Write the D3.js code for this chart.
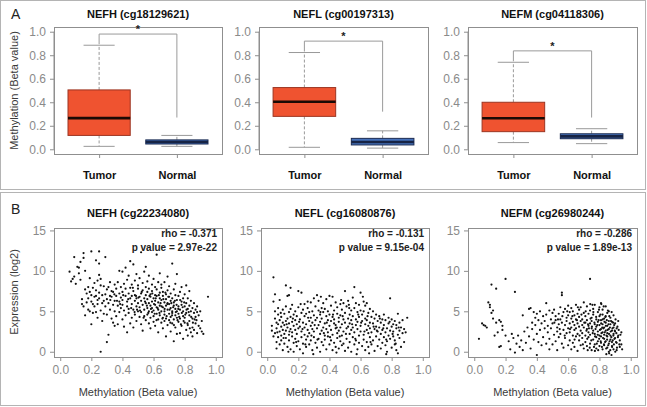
<!DOCTYPE html>
<html><head><meta charset="utf-8">
<script src="https://cdn.jsdelivr.net/npm/d3@7"></script>
<style>
html,body{margin:0;padding:0;background:#fff;}
svg{display:block;font-family:"Liberation Sans",Arial,sans-serif;}
</style></head>
<body>
<svg id="chart" width="647" height="407"></svg>
<script>
// ---------------- DATA ----------------
const boxTitles = ["NEFH (cg18129621)", "NEFL (cg00197313)", "NEFM (cg04118306)"];
const groups = ["Tumor", "Normal"];
// [low whisker, Q1, median, Q3, high whisker]
const tumorStats = [[0.025, 0.118, 0.265, 0.505, 0.885], [0.017, 0.28, 0.404, 0.525, 0.823], [0.057, 0.15, 0.264, 0.40, 0.74]];
const normalStats = [[0.025, 0.045, 0.062, 0.08, 0.118], [0.01, 0.037, 0.062, 0.093, 0.157], [0.048, 0.09, 0.11, 0.132, 0.175]];
const bracketTop = [0.98, 0.92, 0.837];
const bracketNormalEnd = [0.27, 0.32, 0.27];
const methylTicks = [0, 0.2, 0.4, 0.6, 0.8, 1.0];

const scatterTitles = ["NEFH (cg22234080)", "NEFL (cg16080876)", "NEFM (cg26980244)"];
const rhoValues = ["-0.371", "-0.131", "-0.286"];
const pValues = ["2.97e-22", "9.15e-04", "1.89e-13"];
const exprTicks = [0, 5, 10, 15];
const betaTicks = [0, 0.2, 0.4, 0.6, 0.8, 1.0];

const nefhPoints = [
[.06,9.9],[.07,8.7],[.08,9.0],[.09,11.7],[.09,9.3],[.10,8.4],[.11,10.5],[.12,10.4],[.12,9.7],[.13,11.1],[.13,8.9],[.14,6.5],[.15,12.2],[.15,11.6],[.14,5.9],
[.15,5.6],[.16,10.0],[.16,7.7],[.16,4.5],[.17,7.2],[.17,6.1],[.18,8.0],[.18,6.6],[.18,5.2],[.19,5.0],[.19,7.4],[.19,9.1],[.20,12.4],[.20,3.4],[.20,6.2],[.20,7.0],[.21,7.9],[.21,4.8],[.21,5.9],[.22,5.6],[.22,8.5],[.22,6.8],[.23,11.3],[.23,6.9],[.23,7.6],[.23,4.9],[.24,4.2],[.24,5.9],[.24,8.8],[.24,6.4],[.25,12.4],[.25,10.9],[.25,9.5],[.25,6.6],[.25,7.3],
[.26,9.0],[.26,0.0],[.26,5.1],[.26,8.2],[.27,7.0],[.27,3.8],[.27,6.0],[.28,6.3],[.28,8.1],[.28,4.7],[.29,11.7],[.29,5.6],[.29,7.1],[.30,1.2],[.30,7.7],[.30,4.6],[.30,6.5],[.31,2.1],[.31,6.0],[.31,8.0],[.32,8.6],[.32,5.2],[.32,6.9],[.33,6.8],[.33,4.1],[.33,7.5],[.34,7.4],[.34,5.8],[.34,3.6],[.35,3.2],[.35,6.3],[.35,8.3],[.35,5.0],
[.36,6.9],[.36,4.4],[.36,7.8],[.37,5.7],[.37,8.6],[.37,3.4],[.38,6.2],[.38,7.2],[.38,4.9],[.38,10.0],[.39,5.4],[.39,8.0],[.39,6.7],[.40,9.9],[.40,4.0],[.40,7.4],[.40,5.8],[.40,6.4],[.41,8.4],[.41,3.1],[.41,5.1],[.42,10.4],[.42,6.9],[.42,4.5],[.42,7.8],[.43,5.6],[.43,8.9],[.43,2.4],[.43,6.2],[.44,7.2],[.44,4.8],[.44,9.4],[.44,5.3],[.45,11.2],[.45,6.6],[.45,3.5],[.45,7.9],
[.46,5.9],[.46,8.3],[.46,4.2],[.46,6.9],[.47,7.5],[.47,5.2],[.47,10.8],[.47,3.0],[.48,6.3],[.48,8.8],[.48,4.6],[.48,7.0],[.49,5.6],[.49,9.6],[.49,6.6],[.49,3.8],[.50,7.8],[.50,5.0],[.50,6.0],[.50,8.2],[.51,4.3],[.51,6.8],[.51,9.1],[.51,5.5],[.52,12.3],[.52,7.2],[.52,3.4],[.52,6.3],[.52,4.9],[.53,8.5],[.53,5.8],[.53,7.6],[.53,2.6],[.54,6.6],[.54,4.4],[.54,9.9],[.54,5.2],[.55,10.5],[.55,7.0],[.55,3.9],[.55,6.0],[.55,8.0],
[.56,5.4],[.56,7.4],[.56,4.6],[.56,6.5],[.56,8.7],[.57,6.0],[.57,3.5],[.57,7.8],[.57,5.0],[.57,9.4],[.58,6.8],[.58,4.2],[.58,5.7],[.58,7.1],[.58,2.9],[.59,8.3],[.59,6.2],[.59,4.9],[.59,5.4],[.59,7.5],[.60,3.7],[.60,6.6],[.60,9.0],[.60,5.1],[.60,4.4],[.61,7.0],[.61,5.8],[.61,8.0],[.61,3.2],[.61,6.3],[.62,12.0],[.62,4.7],[.62,6.9],[.62,5.5],[.62,7.7],[.63,5.2],[.63,8.6],[.63,4.0],[.63,6.1],[.63,2.4],[.64,6.6],[.64,7.3],[.64,4.5],[.64,5.7],[.64,9.7],[.65,5.0],[.65,6.4],[.65,3.6],[.65,7.9],[.65,8.3],
[.66,5.5],[.66,4.2],[.66,6.9],[.66,7.4],[.66,2.9],[.67,6.1],[.67,5.0],[.67,8.6],[.67,3.8],[.67,4.6],[.68,7.1],[.68,5.7],[.68,6.5],[.68,1.9],[.68,4.1],[.69,5.2],[.69,7.6],[.69,3.3],[.69,6.0],[.69,9.3],[.70,4.7],[.70,5.9],[.70,6.8],[.70,3.9],[.70,8.1],[.71,5.4],[.71,4.3],[.71,7.2],[.71,2.5],[.71,6.3],[.72,10.9],[.72,5.0],[.72,3.5],[.72,6.6],[.72,4.8],[.73,5.7],[.73,7.7],[.73,4.0],[.73,1.3],[.73,6.1],[.74,4.5],[.74,5.3],[.74,3.0],[.74,7.0],[.74,8.4],[.75,6.4],[.75,4.2],[.75,5.0],[.75,2.2],[.75,9.6],
[.76,5.6],[.76,3.7],[.76,6.9],[.76,4.7],[.77,2.3],[.77,5.2],[.77,7.4],[.77,4.1],[.78,6.2],[.78,3.2],[.78,5.8],[.78,8.0],[.79,4.4],[.79,6.6],[.79,1.6],[.79,5.0],[.80,5.6],[.80,3.6],[.80,7.1],[.80,4.2],[.81,2.7],[.81,6.0],[.81,4.8],[.81,8.2],[.82,5.3],[.82,3.3],[.82,6.6],[.82,2.0],[.83,4.5],[.83,5.7],[.83,7.5],[.83,3.8],[.84,5.0],[.84,2.4],[.84,6.3],[.85,4.1],[.85,5.4],[.85,1.9],[.85,3.0],
[.86,4.8],[.86,6.0],[.86,2.7],[.87,5.2],[.87,3.5],[.87,4.3],[.88,4.9],[.88,2.3],[.88,5.6],[.89,3.2],[.89,4.5],[.90,5.0],[.90,2.9],[.91,3.8],[.91,2.5],[.92,2.2],[.95,6.8],
[.503,6.7],[.513,5.1],[.524,7.4],[.536,4.2],[.545,6.2],[.557,5.7],[.566,4.8],[.574,6.9],[.583,5.3],[.592,7.2],[.603,5.9],[.607,4.7],[.614,6.6],[.619,3.9],[.626,5.4],[.634,7.0],[.638,4.8],[.645,6.0],[.652,5.6],[.657,4.1],[.663,6.5],[.671,5.3],[.676,7.3],[.684,4.4],[.689,5.9],[.695,6.8],[.703,5.2],[.708,3.6],[.714,6.0],[.719,4.5],[.726,5.5],[.731,3.3],[.737,6.3],[.743,4.9],[.748,5.8],[.754,3.9],[.759,5.3],[.765,4.3],[.771,6.4],[.776,3.4],[.782,4.8],[.787,5.5],[.793,3.8],[.797,6.1],[.804,4.6],[.812,5.2],[.818,3.5],[.826,4.9],[.833,2.9],[.842,4.3],[.853,3.6],[.864,4.0],[.876,3.9],[.437,6.5],[.456,5.4],[.467,7.9],[.478,4.9],[.487,6.9],[.494,5.2],[.405,7.0],[.385,5.9],[.365,6.3],[.348,7.1],[.322,6.4]
];

const neflPoints = [
[.03,3.2],[.03,2.6],[.04,9.2],[.04,1.9],[.04,6.2],[.05,7.1],[.05,5.0],[.05,4.1],[.05,2.3],[.06,3.6],[.06,1.2],[.06,0.4],[.06,2.9],[.07,4.6],[.07,3.4],[.07,1.8],[.07,5.4],[.08,2.5],[.08,0.9],[.08,3.9],[.08,6.4],[.09,2.0],[.09,4.3],[.09,3.1],[.09,1.4],[.10,5.2],[.10,2.7],[.10,0.2],[.10,3.6],
[.11,4.7],[.11,2.2],[.11,3.3],[.11,1.0],[.12,8.2],[.12,3.8],[.12,5.6],[.12,1.7],[.12,2.6],[.13,4.1],[.13,0.6],[.13,3.0],[.13,6.9],[.14,7.0],[.14,2.1],[.14,4.9],[.14,1.4],[.14,3.5],[.15,7.9],[.15,5.3],[.15,2.8],[.15,0.3],[.15,4.3],[.16,3.7],[.16,1.9],[.16,5.8],[.16,2.4],[.17,4.6],[.17,1.1],[.17,3.2],[.17,0.0],[.18,2.7],[.18,5.0],[.18,3.9],[.18,1.6],[.19,4.4],[.19,2.2],[.19,0.7],[.19,3.4],[.20,7.5],[.20,5.5],[.20,2.9],[.20,1.3],
[.21,4.0],[.21,0.3],[.21,3.1],[.22,7.3],[.22,1.8],[.22,4.8],[.22,2.5],[.23,5.2],[.23,3.6],[.23,1.0],[.23,-0.2],[.24,4.4],[.24,2.1],[.24,5.9],[.24,3.0],[.25,1.5],[.25,4.7],[.25,3.4],[.25,0.6],[.26,5.4],[.26,2.7],[.26,6.2],[.26,1.9],[.27,3.8],[.27,4.9],[.27,0.9],[.27,2.3],[.28,6.1],[.28,3.2],[.28,1.4],[.28,4.2],[.29,2.8],[.29,5.0],[.29,0.2],[.29,3.6],[.30,6.6],[.30,4.5],[.30,1.8],[.30,2.5],
[.31,3.9],[.31,5.6],[.31,1.1],[.32,7.0],[.32,2.9],[.32,4.2],[.32,0.5],[.33,6.3],[.33,3.3],[.33,1.6],[.33,5.1],[.34,2.2],[.34,4.6],[.34,3.7],[.34,0.0],[.35,5.4],[.35,2.6],[.35,1.2],[.35,4.1],[.36,3.0],[.36,6.0],[.36,0.8],[.36,4.9],[.37,2.0],[.37,3.5],[.37,5.3],[.37,1.5],[.38,4.4],[.38,2.8],[.38,0.3],[.38,6.5],[.39,3.9],[.39,1.9],[.39,5.0],[.39,2.4],[.40,4.6],[.40,0.9],[.40,3.2],[.40,6.9],
[.41,2.7],[.41,5.7],[.41,1.4],[.41,3.8],[.42,4.3],[.42,0.2],[.42,2.1],[.42,6.8],[.43,3.5],[.43,5.1],[.43,1.1],[.43,4.0],[.44,2.9],[.44,6.1],[.44,0.6],[.44,3.3],[.45,4.7],[.45,2.3],[.45,5.5],[.45,1.7],[.46,3.7],[.46,0.4],[.46,4.2],[.46,2.6],[.47,5.9],[.47,3.0],[.47,1.3],[.47,4.5],[.48,2.0],[.48,3.4],[.48,5.2],[.48,0.8],[.49,4.0],[.49,2.5],[.49,6.0],[.49,1.0],[.50,7.5],[.50,3.6],[.50,0.1],[.50,4.8],
[.51,2.9],[.51,5.6],[.51,1.6],[.52,4.1],[.52,3.1],[.52,0.5],[.52,6.3],[.53,2.2],[.53,4.6],[.53,1.2],[.53,3.5],[.54,5.1],[.54,0.0],[.54,2.7],[.54,3.9],[.55,6.7],[.55,1.8],[.55,4.4],[.55,3.0],[.56,8.0],[.56,5.4],[.56,2.4],[.56,0.9],[.57,4.0],[.57,3.3],[.57,6.0],[.57,1.4],[.58,2.8],[.58,4.9],[.58,0.3],[.58,3.7],[.59,5.8],[.59,2.0],[.59,4.3],[.59,1.1],[.60,7.3],[.60,3.2],[.60,5.1],[.60,2.5],
[.61,4.6],[.61,0.7],[.61,3.8],[.62,6.2],[.62,2.1],[.62,5.0],[.62,1.5],[.63,3.4],[.63,4.1],[.63,0.2],[.63,5.7],[.64,2.7],[.64,3.9],[.64,6.0],[.64,1.2],[.65,4.8],[.65,2.3],[.65,3.2],[.65,0.6],[.66,5.3],[.66,3.6],[.66,1.8],[.66,2.9],[.67,4.3],[.67,0.9],[.67,2.4],[.68,3.5],[.68,5.0],[.68,1.4],[.69,2.8],[.69,4.1],[.69,0.1],[.70,3.1],[.70,1.9],[.70,4.6],
[.71,2.5],[.71,3.8],[.71,0.7],[.72,4.4],[.72,1.5],[.72,3.0],[.73,2.2],[.73,3.6],[.73,0.4],[.74,4.0],[.74,1.1],[.74,2.7],[.75,3.3],[.75,1.8],[.75,4.6],[.76,2.4],[.76,0.8],[.76,3.9],[.77,1.3],[.77,2.9],[.77,0.0],[.78,3.5],[.78,2.0],[.78,4.2],[.79,6.6],[.79,1.6],[.79,2.6],[.80,3.1],[.80,0.5],[.80,4.0],
[.81,1.9],[.81,3.4],[.81,2.5],[.82,0.9],[.82,3.8],[.82,1.4],[.83,2.9],[.83,0.2],[.83,3.3],[.84,4.7],[.84,2.1],[.84,-0.2],[.85,3.6],[.85,1.7],[.85,2.6],[.86,0.6],[.86,3.0],[.87,2.3],[.87,3.9],[.88,1.2],[.88,2.8],[.89,2.4],[.90,4.2],
[.065,2.4],[.087,4.8],[.105,1.7],[.125,3.4],[.143,2.5],[.165,4.1],[.186,1.2],[.205,3.7],[.227,2.8],[.245,0.9],[.263,4.2],[.284,2.0],[.305,3.3],[.323,1.5],[.342,4.9],[.364,2.3],[.383,3.6],[.404,1.8],[.423,4.6],[.447,3.0],[.466,1.9],[.485,4.4],[.506,2.2],[.527,5.4],[.546,3.4],[.566,1.6],[.585,4.6],[.604,3.6],[.625,2.5],[.645,4.4],[.664,1.2],[.684,3.1],[.705,2.6],[.724,4.1],[.746,2.9],[.765,1.5],[.787,3.7],[.806,2.2],[.826,1.0],[.845,3.0],[.136,0.0],[.296,-0.3],[.445,-0.1],[.575,-0.3],[.655,-0.2],[.765,-0.3],[.215,5.9],[.475,6.4],[.615,6.8],[.345,6.8],[.525,5.8]
];

const nefmPoints = [
[.03,1.6],[.05,3.5],[.06,3.3],[.07,3.2],[.08,3.0],[.09,6.1],[.10,5.5],[.10,5.8],[.11,8.3],[.11,4.8],[.12,4.1],[.12,5.1],[.13,2.0],[.14,7.8],[.14,3.6],[.15,2.4],[.16,3.9],[.16,0.6],[.17,3.7],[.17,0.7],[.18,3.2],[.18,2.7],[.20,9.0],[.20,2.0],[.22,1.3],[.23,0.3],[.24,2.2],[.25,1.7],[.26,7.4],[.26,-0.1],[.27,1.0],[.28,2.0],[.29,0.6],[.30,1.4],[.31,4.5],[.31,0.2],[.32,2.5],
[.33,1.1],[.34,3.0],[.35,5.3],[.35,1.9],[.36,5.4],[.36,0.4],[.37,3.6],[.37,2.8],[.38,1.5],[.38,4.9],[.39,4.2],[.39,3.3],[.40,4.7],[.40,-0.4],[.40,2.2],[.41,3.9],[.41,1.2],[.42,5.0],[.42,2.7],[.43,3.5],[.43,0.8],[.44,4.4],[.44,1.8],[.45,2.9],[.45,3.8],[.46,6.0],[.46,1.0],[.46,4.6],[.47,2.4],[.47,3.2],[.48,5.1],[.48,0.3],[.48,1.6],[.49,4.0],[.49,2.9],[.50,3.5],[.50,0.9],[.50,4.8],
[.51,2.1],[.51,5.2],[.52,3.9],[.52,1.3],[.52,4.4],[.53,3.0],[.53,2.5],[.53,0.2],[.54,4.7],[.54,3.4],[.54,1.8],[.55,5.5],[.55,2.2],[.55,4.0],[.56,7.3],[.56,7.0],[.56,3.6],[.56,1.0],[.57,4.9],[.57,2.7],[.57,0.5],[.58,3.3],[.58,5.3],[.58,1.7],[.59,4.2],[.59,2.3],[.59,3.8],[.60,5.7],[.60,0.8],[.60,2.9],[.60,4.5],
[.61,3.5],[.61,1.4],[.61,4.9],[.61,2.4],[.62,5.4],[.62,3.0],[.62,0.3],[.62,4.1],[.63,2.0],[.63,3.7],[.63,5.0],[.63,1.1],[.64,4.5],[.64,2.7],[.64,3.3],[.64,0.6],[.65,5.8],[.65,1.9],[.65,4.0],[.65,2.9],[.66,3.5],[.66,0.1],[.66,4.7],[.66,2.2],[.67,5.2],[.67,3.1],[.67,1.4],[.67,4.3],[.68,2.6],[.68,3.8],[.68,0.8],[.68,5.5],[.69,4.0],[.69,1.7],[.69,3.3],[.69,2.3],[.70,6.1],[.70,4.8],[.70,0.4],[.70,3.0],
[.71,2.0],[.71,4.4],[.71,3.6],[.71,1.2],[.72,5.6],[.72,2.8],[.72,3.9],[.72,0.7],[.73,4.7],[.73,1.8],[.73,3.2],[.73,2.4],[.74,9.0],[.74,5.1],[.74,3.5],[.74,1.0],[.74,2.1],[.75,4.2],[.75,2.9],[.75,0.2],[.75,3.8],[.76,5.3],[.76,1.5],[.76,2.6],[.76,4.6],[.77,3.4],[.77,0.9],[.77,5.8],[.77,2.2],[.78,4.0],[.78,1.8],[.78,3.1],[.78,0.4],[.79,4.9],[.79,2.5],[.79,3.7],[.79,1.3],[.80,5.5],[.80,3.3],[.80,0.7],[.80,2.0],[.80,4.4],
[.81,6.0],[.81,2.8],[.81,3.9],[.81,1.1],[.81,1.9],[.82,4.6],[.82,2.4],[.82,3.4],[.82,0.3],[.82,5.2],[.83,1.6],[.83,3.0],[.83,4.1],[.83,2.1],[.83,0.8],[.84,5.6],[.84,3.6],[.84,1.3],[.84,2.6],[.84,4.4],[.85,0.5],[.85,3.2],[.85,1.9],[.85,4.8],[.85,2.3],[.86,3.8],[.86,1.0],[.86,2.8],[.86,0.0],[.86,5.0],[.87,2.0],[.87,3.4],[.87,1.5],[.87,4.2],[.88,2.6],[.88,0.7],[.88,3.7],[.88,1.2],[.89,4.5],[.89,2.2],[.89,3.0],[.89,0.3],[.90,1.7],[.90,3.5],[.90,2.5],
[.91,1.1],[.91,2.9],[.91,0.2],[.92,2.0],[.92,3.8],[.93,1.4],[.93,0.6],[.94,0.9],[.94,2.4],
[.722,1.6],[.727,3.4],[.733,2.9],[.738,0.5],[.743,4.1],[.748,1.4],[.752,3.1],[.757,2.3],[.761,4.9],[.765,0.6],[.768,3.6],[.772,1.9],[.775,2.8],[.779,4.3],[.783,1.0],[.786,3.3],[.789,2.1],[.792,0.2],[.795,3.9],[.798,1.6],[.803,2.7],[.806,4.6],[.808,1.3],[.811,3.5],[.813,2.3],[.816,0.6],[.818,3.0],[.821,4.0],[.823,1.7],[.825,2.9],[.827,5.6],[.829,0.9],[.832,3.7],[.834,2.4],[.836,1.2],[.838,4.3],[.841,3.2],[.843,0.4],[.845,2.0],[.847,3.9],[.849,1.5],[.852,2.7],[.854,5.1],[.856,0.8],[.858,3.4],[.861,2.2],[.863,4.4],[.865,1.3],[.867,3.0],[.869,0.2],[.872,2.5],[.874,3.8],[.876,1.8],[.878,4.9],[.881,0.6],[.883,2.9],[.885,1.4],[.887,3.6],[.889,2.0],[.892,0.9],[.894,3.3],[.896,1.6],[.898,2.6],[.903,4.0],[.906,1.2],[.908,2.3],[.912,0.5],[.915,3.1],[.918,1.8],[.923,2.7],[.927,0.9],[.934,2.1],[.945,0.3],
[.612,2.8],[.627,4.4],[.641,1.5],[.656,3.9],[.662,5.5],[.673,2.0],[.685,4.6],[.694,0.9],[.703,3.6],[.712,5.0],[.717,2.6],[.725,0.2],[.741,5.9],[.755,5.8],[.771,0.1],[.797,5.2],[.812,5.9],[.844,-0.3],[.862,-0.2],[.877,-0.4],[.901,0.0],
[.512,3.6],[.535,4.0],[.546,2.8],[.563,4.4],[.578,2.0],[.594,5.0]
];
const scatterSeries = [nefhPoints, neflPoints, nefmPoints];

// ---------------- DRAW ----------------
const svg = d3.select("#chart");
const FRAME = "#b4b4b4", AXIS = "#8f8f8f", TICKTXT = "#8a8a8a", LABTXT = "#3a3a3a";
const TUMOR_FILL = "#EF5330", TUMOR_STROKE = "#9c3522";
const NORMAL_FILL = "#4470BA", NORMAL_STROKE = "#1c2c52";
const FONT = "Liberation Sans, Arial, sans-serif";

svg.append("rect").attr("x", 0.5).attr("y", 0.5).attr("width", 645).attr("height", 189).attr("fill", "none").attr("stroke", FRAME);
svg.append("rect").attr("x", 0.5).attr("y", 192.5).attr("width", 645).attr("height", 213).attr("fill", "none").attr("stroke", FRAME);
svg.append("text").attr("x", 11).attr("y", 19).attr("font-size", 14).attr("fill", "#222").text("A");
svg.append("text").attr("x", 11).attr("y", 214).attr("font-size", 14).attr("fill", "#222").text("B");

// ---- Panel A: box plots ----
const boxX = [[54, 222], [259, 428], [468, 637]];
const boxTop = 27, boxBottom = 154;

boxTitles.forEach((title, i) => {
  const g = svg.append("g");
  const x = d3.scaleLinear().domain([0.42, 2.58]).range(boxX[i]);
  const y = d3.scaleLinear().domain([-0.04, 1.04]).range([boxBottom, boxTop]);
  const bw = x(1.4) - x(0.6);

  g.append("text").attr("x", (boxX[i][0] + boxX[i][1]) / 2).attr("y", 18)
    .attr("text-anchor", "middle").attr("font-size", 11).attr("font-weight", "bold").attr("fill", "#111").text(title);

  const ya = d3.axisLeft(y).tickValues(methylTicks).tickFormat(d3.format(".1f")).tickSize(4).tickPadding(4).tickSizeOuter(0);
  const yg = g.append("g").attr("transform", `translate(${boxX[i][0]},0)`).call(ya);
  yg.select(".domain").remove();
  yg.selectAll("line").attr("stroke", AXIS);
  yg.selectAll("text").attr("fill", TICKTXT).attr("font-size", 12).attr("font-family", FONT);
  g.append("line").attr("x1", boxX[i][0]).attr("x2", boxX[i][0]).attr("y1", y(0)).attr("y2", y(1)).attr("stroke", AXIS);

  const xa = d3.axisBottom(x).tickValues([1, 2]).tickFormat((d) => groups[d - 1]).tickSize(4).tickPadding(13).tickSizeOuter(0);
  const xg = g.append("g").attr("transform", `translate(0,${boxBottom})`).call(xa);
  xg.select(".domain").remove();
  xg.selectAll("line").attr("stroke", AXIS);
  xg.selectAll("text").attr("fill", "#111").attr("font-size", 11).attr("font-weight", "bold").attr("font-family", FONT);

  g.append("rect").attr("x", boxX[i][0] + 0.5).attr("y", boxTop + 0.5).attr("width", boxX[i][1] - boxX[i][0]).attr("height", boxBottom - boxTop)
    .attr("fill", "none").attr("stroke", AXIS);

  const stats = [tumorStats[i], normalStats[i]];
  stats.forEach((s, k) => {
    const cx = x(k + 1);
    const fill = k === 0 ? TUMOR_FILL : NORMAL_FILL;
    const stroke = k === 0 ? TUMOR_STROKE : NORMAL_STROKE;
    g.append("line").attr("x1", cx).attr("x2", cx).attr("y1", y(s[3])).attr("y2", y(s[4])).attr("stroke", "#999").attr("stroke-dasharray", "3,2");
    g.append("line").attr("x1", cx).attr("x2", cx).attr("y1", y(s[1])).attr("y2", y(s[0])).attr("stroke", "#999").attr("stroke-dasharray", "3,2");
    g.append("line").attr("x1", cx - bw / 4).attr("x2", cx + bw / 4).attr("y1", y(s[4])).attr("y2", y(s[4])).attr("stroke", "#999");
    g.append("line").attr("x1", cx - bw / 4).attr("x2", cx + bw / 4).attr("y1", y(s[0])).attr("y2", y(s[0])).attr("stroke", "#999");
    g.append("rect").attr("x", cx - bw / 2).attr("y", y(s[3])).attr("width", bw).attr("height", y(s[1]) - y(s[3]))
      .attr("fill", fill).attr("stroke", stroke).attr("stroke-width", 1);
    g.append("line").attr("x1", cx - bw / 2).attr("x2", cx + bw / 2).attr("y1", y(s[2])).attr("y2", y(s[2]))
      .attr("stroke", k === 0 ? "#1a0a05" : "#172445").attr("stroke-width", 2.6);
  });

  const bt = y(bracketTop[i]);
  g.append("path").attr("d", `M${x(1)},${y(tumorStats[i][4]) - 1}V${bt}H${x(2)}V${y(bracketNormalEnd[i])}`)
    .attr("fill", "none").attr("stroke", "#9a9a9a");
  g.append("text").attr("x", (x(1) + x(2)) / 2).attr("y", bt - 1).attr("text-anchor", "middle")
    .attr("font-size", 11).attr("font-weight", "bold").attr("fill", "#222").text("*");
});

svg.append("text").attr("transform", "translate(18,90.5) rotate(-90)").attr("text-anchor", "middle")
  .attr("font-size", 11).attr("fill", LABTXT).text("Methylation (Beta value)");

// ---- Panel B: scatter plots ----
const scX = [[54, 222], [261, 429], [468, 637]];
const scTop = 228, scBottom = 357;

scatterTitles.forEach((title, i) => {
  const g = svg.append("g");
  const x = d3.scaleLinear().domain([-0.04, 1.04]).range(scX[i]);
  const y = d3.scaleLinear().domain([-0.65, 15.3]).range([scBottom, scTop]);

  g.append("text").attr("x", (scX[i][0] + scX[i][1]) / 2).attr("y", 217)
    .attr("text-anchor", "middle").attr("font-size", 11).attr("font-weight", "bold").attr("fill", "#111").text(title);

  const ya = d3.axisLeft(y).tickValues(exprTicks).tickSize(4).tickPadding(4).tickSizeOuter(0);
  const yg = g.append("g").attr("transform", `translate(${scX[i][0]},0)`).call(ya);
  yg.select(".domain").remove();
  yg.selectAll("line").attr("stroke", AXIS);
  yg.selectAll("text").attr("fill", TICKTXT).attr("font-size", 12).attr("font-family", FONT);

  const xa = d3.axisBottom(x).tickValues(betaTicks).tickFormat(d3.format(".1f")).tickSize(4).tickPadding(4).tickSizeOuter(0);
  const xg = g.append("g").attr("transform", `translate(0,${scBottom})`).call(xa);
  xg.select(".domain").remove();
  xg.selectAll("line").attr("stroke", AXIS);
  xg.selectAll("text").attr("fill", TICKTXT).attr("font-size", 12).attr("font-family", FONT);
  g.append("line").attr("x1", x(0)).attr("x2", x(1)).attr("y1", scBottom + 0.5).attr("y2", scBottom + 0.5).attr("stroke", AXIS);

  g.append("rect").attr("x", scX[i][0] + 0.5).attr("y", scTop + 0.5).attr("width", scX[i][1] - scX[i][0]).attr("height", scBottom - scTop)
    .attr("fill", "none").attr("stroke", AXIS);

  g.selectAll("circle.pt").data(scatterSeries[i]).enter().append("circle").attr("class", "pt")
    .attr("cx", (d) => x(d[0])).attr("cy", (d) => y(d[1])).attr("r", 1.1).attr("fill", "#111");

  g.append("text").attr("x", scX[i][1] - 5).attr("y", 237).attr("text-anchor", "end")
    .attr("font-size", 10).attr("font-weight", "bold").attr("fill", "#222").text("rho = " + rhoValues[i]);
  g.append("text").attr("x", scX[i][1] - 5).attr("y", 251).attr("text-anchor", "end")
    .attr("font-size", 10).attr("font-weight", "bold").attr("fill", "#222").text("p value = " + pValues[i]);

  g.append("text").attr("x", (scX[i][0] + scX[i][1]) / 2).attr("y", 396).attr("text-anchor", "middle")
    .attr("font-size", 11).attr("fill", LABTXT).text("Methylation (Beta value)");
});

svg.append("text").attr("transform", "translate(18,292) rotate(-90)").attr("text-anchor", "middle")
  .attr("font-size", 11).attr("fill", LABTXT).text("Expression (log2)");
</script>
</body></html>
